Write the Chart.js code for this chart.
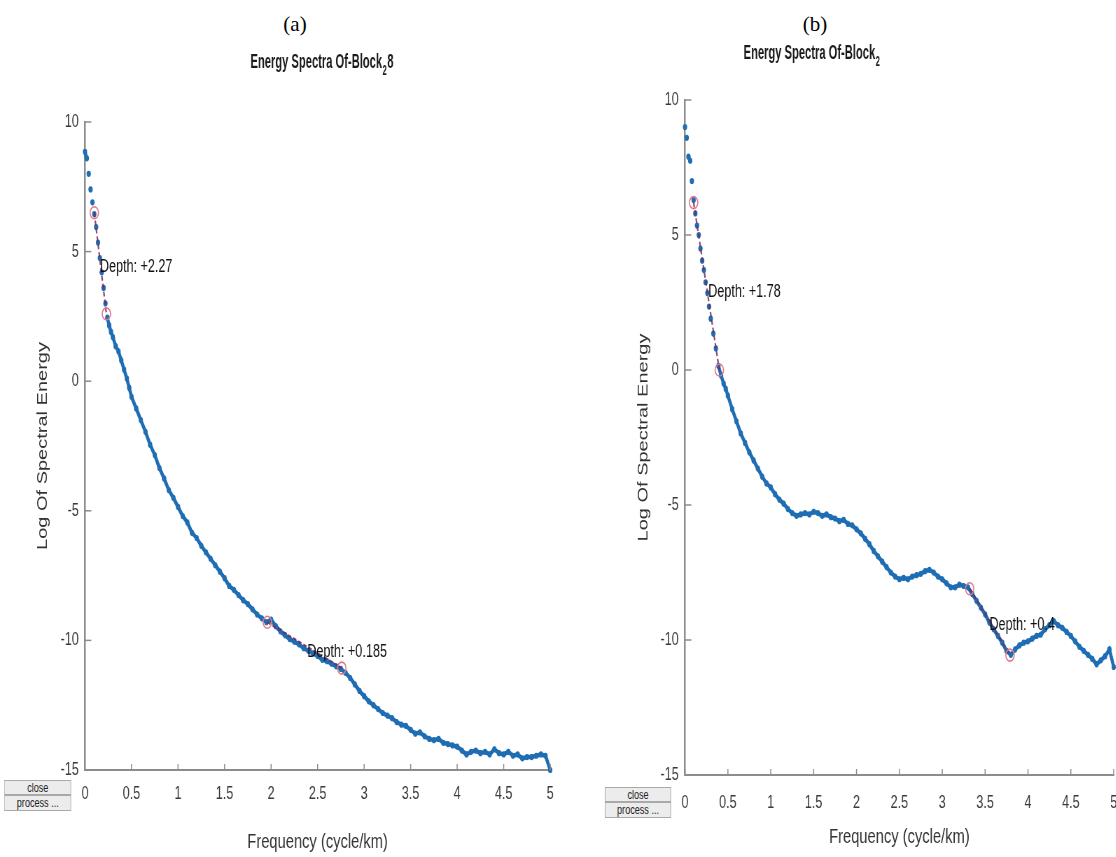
<!DOCTYPE html>
<html>
<head>
<meta charset="utf-8">
<script src="https://cdn.jsdelivr.net/npm/chart.js@4.4.0/dist/chart.umd.min.js"></script>
<style>
  html, body { margin: 0; padding: 0; background: #fff; }
  #page { position: relative; width: 1116px; height: 857px; overflow: hidden; background: #fff; }
  .caption { position: absolute; top: 12px; font-family: "Liberation Serif", "Times New Roman", serif; font-size: 21px; color: #000; transform: translateX(-50%); }
  /* the screenshots in the reference are squeezed sideways, so each panel is too */
  .panel { position: absolute; top: 0; height: 857px; transform: scaleX(0.7); transform-origin: 0 0; }
  .panel canvas { position: absolute; left: 0; top: 0; }
  .btn { position: absolute; box-sizing: border-box; background: #ececec; border: 1px solid #a9a9a9; font-family: "Liberation Sans", Arial, sans-serif; font-size: 13px; color: #222; text-align: center; line-height: 13px; overflow: hidden; }
</style>
</head>
<body>
<div id="page">
  <div class="caption" style="left:295px">(a)</div>
  <div class="caption" style="left:815px">(b)</div>

  <div class="panel" style="left:0px; width:810px">
    <canvas id="chartA" width="810" height="857"></canvas>
    <div class="btn" style="left:6px; top:780px; width:96px; height:15px">close</div>
    <div class="btn" style="left:6px; top:795px; width:96px; height:16px">process ...</div>
  </div>

  <div class="panel" style="left:560px; width:814px">
    <canvas id="chartB" width="814" height="857"></canvas>
    <div class="btn" style="left:64px; top:787px; width:95px; height:15px">close</div>
    <div class="btn" style="left:64px; top:802px; width:95px; height:16px">process ...</div>
  </div>
</div>

<script>
// frequency samples (cycle/km), shared by both spectra
const freq = [
  0, 0.02, 0.04, 0.06, 0.08, 0.10, 0.12, 0.14, 0.16, 0.18,
  0.20, 0.22, 0.24, 0.26, 0.28, 0.30, 0.33, 0.36, 0.39, 0.42, 0.45, 0.475,
  0.50, 0.55, 0.60, 0.65, 0.70, 0.75, 0.80, 0.85, 0.90, 0.95,
  1.00, 1.05, 1.10, 1.15, 1.20, 1.25, 1.30, 1.35, 1.40, 1.45,
  1.50, 1.55, 1.60, 1.65, 1.70, 1.75, 1.80, 1.85, 1.90, 1.95,
  2.00, 2.05, 2.10, 2.15, 2.20, 2.25, 2.30, 2.35, 2.40, 2.45,
  2.50, 2.55, 2.60, 2.65, 2.70, 2.75, 2.80, 2.85, 2.90, 2.95,
  3.00, 3.05, 3.10, 3.15, 3.20, 3.25, 3.30, 3.35, 3.40, 3.45,
  3.50, 3.55, 3.60, 3.65, 3.70, 3.75, 3.80, 3.85, 3.90, 3.95,
  4.00, 4.05, 4.10, 4.15, 4.20, 4.25, 4.30, 4.35, 4.40, 4.45,
  4.50, 4.55, 4.60, 4.65, 4.70, 4.75, 4.80, 4.85, 4.90, 4.95,
  5.00
];

// (a) Block_2 8
const energyA = [
  8.85, 8.6, 8.0, 7.4, 6.9, 6.45, 5.95, 5.35, 4.75, 4.2,
  3.6, 3.0, 2.45, 2.15, 1.9, 1.7, 1.35, 1.15, 0.8, 0.45, 0.1, -0.25,
  -0.6, -1.05, -1.5, -1.95, -2.45, -2.85, -3.35, -3.75, -4.2, -4.5,
  -4.85, -5.2, -5.45, -5.85, -6.05, -6.35, -6.6, -6.85, -7.1, -7.35,
  -7.6, -7.9, -8.05, -8.25, -8.45, -8.6, -8.8, -9.0, -9.15, -9.3,
  -9.2, -9.45, -9.65, -9.8, -9.95, -10.05, -10.15, -10.3, -10.4, -10.5,
  -10.6, -10.75, -10.8, -10.9, -11.0, -11.1, -11.25, -11.45, -11.7, -11.95,
  -12.15, -12.35, -12.5, -12.65, -12.8, -12.9, -13.0, -13.15, -13.25, -13.3,
  -13.45, -13.6, -13.55, -13.7, -13.8, -13.85, -13.8, -13.95, -14.0, -14.05,
  -14.1, -14.25, -14.4, -14.3, -14.25, -14.35, -14.3, -14.4, -14.2, -14.35,
  -14.4, -14.3, -14.45, -14.4, -14.55, -14.5, -14.5, -14.45, -14.4, -14.45,
  -15.0
];

// (b) Block_2
const energyB = [
  9.0, 8.6, 7.9, 7.75, 7.0, 6.3, 5.8, 5.35, 5.0, 4.5,
  4.05, 3.7, 3.25, 2.85, 2.35, 1.9, 1.35, 0.8, 0.15, -0.2, -0.5, -0.7,
  -0.95, -1.45, -1.9, -2.35, -2.7, -3.05, -3.35, -3.65, -3.95, -4.2,
  -4.35, -4.6, -4.8, -4.95, -5.15, -5.3, -5.4, -5.35, -5.3, -5.35,
  -5.25, -5.3, -5.4, -5.35, -5.45, -5.5, -5.6, -5.55, -5.7, -5.75,
  -5.9, -6.05, -6.25, -6.45, -6.7, -6.9, -7.1, -7.3, -7.5, -7.65,
  -7.75, -7.7, -7.75, -7.65, -7.6, -7.55, -7.45, -7.4, -7.5, -7.65,
  -7.75, -7.9, -8.05, -8.05, -7.95, -8.0, -8.05, -8.3, -8.55, -8.8,
  -9.05, -9.35, -9.6, -9.85, -10.1, -10.4, -10.55, -10.35, -10.2, -10.1,
  -10.05, -9.95, -9.85, -9.8, -9.6, -9.45, -9.3, -9.45, -9.55, -9.7,
  -9.85, -10.05, -10.25, -10.4, -10.55, -10.7, -10.9, -10.75, -10.6, -10.35,
  -11.0
];

const xTickValues = [0, 0.5, 1, 1.5, 2, 2.5, 3, 3.5, 4, 4.5, 5];
const yTickValues = [-15, -10, -5, 0, 5, 10];

// straight-line fits: end points and the depth annotation (data units)
const fitsA = [
  { freq: [0.10, 0.23], energy: [6.5, 2.6], text: 'Depth: +2.27', at: [0.16, 4.4] },
  { freq: [1.96, 2.76], energy: [-9.3, -11.07], text: 'Depth: +0.185', at: [2.39, -10.45] }
];
const fitsB = [
  { freq: [0.10, 0.40], energy: [6.2, 0.0], text: 'Depth: +1.78', at: [0.27, 2.9] },
  { freq: [3.32, 3.79], energy: [-8.1, -10.56], text: 'Depth: +0.4', at: [3.55, -9.45] }
];

const titleA = [['Energy Spectra Of-Block', false], ['2', true], ['8', false]];
const titleB = [['Energy Spectra Of-Block', false], ['2', true]];

const fontFam = '"Liberation Sans", Arial, sans-serif';
const blue = '#1f6db3';
const axisGray = '#8c8c8c';

function makeDecor(look) {
    return {
        id: 'panelDecor',
        afterDraw(chart) {
            const { ctx, chartArea, scales: { x, y } } = chart;
            ctx.save();

            // MATLAB style ticks point into the plot
            ctx.strokeStyle = axisGray;
            ctx.lineWidth = 1.5;
            xTickValues.forEach(v => {
                const px = x.getPixelForValue(v);
                ctx.beginPath();
                ctx.moveTo(px, chartArea.bottom);
                ctx.lineTo(px, chartArea.bottom - 6);
                ctx.stroke();
            });
            yTickValues.forEach(v => {
                const py = y.getPixelForValue(v);
                ctx.beginPath();
                ctx.moveTo(chartArea.left, py);
                ctx.lineTo(chartArea.left + 9, py);
                ctx.stroke();
            });

            // title with subscript, a narrow bold face
            const mainFont = `bold 21px ${fontFam}`;
            const subFont = `bold 14px ${fontFam}`;
            const squeeze = 0.76;
            let total = 0;
            look.title.forEach(([t, sub]) => {
                ctx.font = sub ? subFont : mainFont;
                total += ctx.measureText(t).width + (sub ? 2 : 0);
            });
            ctx.save();
            ctx.translate(look.titleX - total * squeeze / 2, look.titleY);
            ctx.scale(squeeze, 1);
            let tx = 0;
            ctx.fillStyle = '#1a1a1a';
            ctx.textBaseline = 'alphabetic';
            ctx.textAlign = 'left';
            look.title.forEach(([t, sub]) => {
                ctx.font = sub ? subFont : mainFont;
                ctx.fillText(t, tx + (sub ? 1 : 0), sub ? 7 : 0);
                tx += ctx.measureText(t).width + (sub ? 2 : 0);
            });
            ctx.restore();

            // depth annotations
            ctx.font = `18px ${fontFam}`;
            ctx.fillStyle = '#111';
            ctx.textBaseline = 'middle';
            look.fits.forEach(f => {
                ctx.fillText(f.text, x.getPixelForValue(f.at[0]), y.getPixelForValue(f.at[1]));
            });
            ctx.restore();
        }
    };
}

function buildPanel(canvasId, energy, look) {
    const datasets = [{
        label: 'spectrum',
        data: freq.map((f, i) => ({ x: f, y: energy[i] })),
        showLine: true,
        borderColor: blue,
        backgroundColor: blue,
        borderWidth: 4.5,
        pointRadius: 3.1,
        pointBorderWidth: 0,
        clip: false,
        order: 3,
        // very steep stretches show as separate dots, like the sparse samples in the plot
        segment: {
            borderColor: c => Math.abs(c.p1.y - c.p0.y) > 3.5 * Math.abs(c.p1.x - c.p0.x) ? 'rgba(0,0,0,0)' : undefined
        }
    }];

    look.fits.forEach(fit => {
        datasets.push({
            label: fit.text,
            data: fit.freq.map((f, i) => ({ x: f, y: fit.energy[i] })),
            showLine: true,
            borderColor: 'rgba(120,40,90,0.85)',
            borderDash: [5, 3],
            borderWidth: 2.2,
            pointRadius: 6,
            pointBorderColor: '#e0788a',
            pointBackgroundColor: 'rgba(0,0,0,0)',
            pointBorderWidth: 1.6,
            order: 1
        });
    });

    return new Chart(document.getElementById(canvasId), {
        type: 'scatter',
        data: { datasets },
        options: {
            responsive: false,
            maintainAspectRatio: false,
            animation: false,
            events: [],
            layout: { padding: { top: look.top, left: 0, right: look.right, bottom: 0 } },
            plugins: { legend: { display: false }, tooltip: { enabled: false } },
            scales: {
                x: {
                    type: 'linear',
                    min: 0,
                    max: 5,
                    grid: { display: false, drawTicks: false },
                    border: { display: true, color: axisGray, width: 2 },
                    ticks: {
                        padding: look.xTickPad,
                        color: '#3a3a3a',
                        font: { family: fontFam, size: 18 },
                        maxRotation: 0,
                        autoSkip: false,
                        callback: v => String(v)
                    },
                    afterBuildTicks: s => { s.ticks = xTickValues.map(v => ({ value: v })); },
                    afterFit: s => { s.height = look.xHeight; },
                    title: {
                        display: true,
                        text: 'Frequency (cycle/km)',
                        color: '#333',
                        font: { family: fontFam, size: 21 },
                        padding: { top: 0, bottom: look.xTitlePad }
                    }
                },
                y: {
                    type: 'linear',
                    min: -15,
                    max: 10,
                    grid: { display: false, drawTicks: false },
                    border: { display: true, color: axisGray, width: 2.5 },
                    ticks: {
                        padding: 9,
                        color: '#3a3a3a',
                        font: { family: fontFam, size: 18 },
                        callback: v => String(v)
                    },
                    afterBuildTicks: s => { s.ticks = yTickValues.map(v => ({ value: v })); },
                    afterFit: s => { s.width = look.yWidth; },
                    title: {
                        display: true,
                        text: 'Log Of Spectral Energy',
                        color: '#333',
                        font: { family: fontFam, size: 20 },
                        padding: { top: look.yTitlePad, bottom: 0 }
                    }
                }
            }
        },
        plugins: [makeDecor(look)]
    });
}

buildPanel('chartA', energyA, {
    fits: fitsA, title: titleA, titleX: 460, titleY: 68,
    top: 122, right: 24, xHeight: 87, yWidth: 121.4,
    xTickPad: 13, xTitlePad: 2.4, yTitlePad: 49
});

buildPanel('chartB', energyB, {
    fits: fitsB, title: titleB, titleX: 360, titleY: 59,
    top: 100, right: 23, xHeight: 82, yWidth: 178.6,
    xTickPad: 17, xTitlePad: 7.4, yTitlePad: 107
});
</script>
</body>
</html>
